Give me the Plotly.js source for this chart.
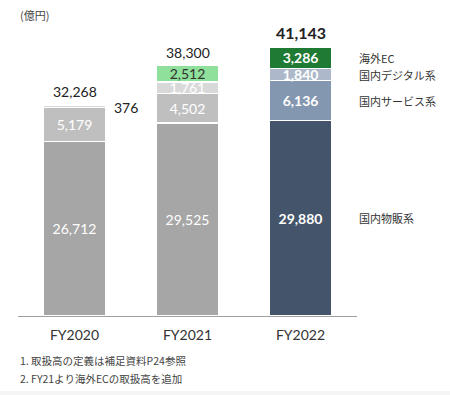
<!DOCTYPE html>
<html><head><meta charset="utf-8">
<script src="https://cdn.plot.ly/plotly-3.0.1.min.js"></script>
<style>html,body{margin:0;padding:0;background:#f5f5f5;}#chart{width:450px;height:391px;background:#fff;}</style>
</head><body><div id="chart"></div>
<script>
const years = ['FY2020', 'FY2021', 'FY2022'];
const seriesNames = ['国内物販系', '国内サービス系', '国内デジタル系', '海外EC'];
const goods = [26712, 29525, 29880];
const services = [5179, 4502, 6136];
const digital = [376, 1761, 1840];
const overseas = [null, 2512, 3286];
const totals = [32268, 38300, 41143];
const unitLabel = '(億円)';
const notes = ['1. 取扱高の定義は補足資料P24参照', '2. FY21より海外ECの取扱高を追加'];

const FONT = "Lato, 'Noto Sans CJK JP', sans-serif";
const JFONT = "'Noto Sans CJK JP', sans-serif";

const seriesVals = [goods, services, digital, overseas];
const colors = [
  ['#a6a6a6', '#a6a6a6', '#44546a'],
  ['#bfbfbf', '#bfbfbf', '#8497b0'],
  ['#d9d9d9', '#d9d9d9', '#adb9ca'],
  ['#8fe09a', '#8fe09a', '#1f7a33']
];
const textColors = [
  ['#ffffff', '#ffffff', '#ffffff'],
  ['#ffffff', '#ffffff', '#ffffff'],
  ['#ffffff', '#ffffff', '#ffffff'],
  ['#333333', '#333333', '#ffffff']
];
const fmt = v => v == null ? '' : v.toLocaleString('en-US');

const traces = seriesVals.map((vals, i) => ({
  type: 'bar',
  name: seriesNames[i],
  x: years,
  y: vals,
  marker: {color: colors[i], line: {color: '#ffffff', width: 1.5}},
  text: vals.map((v, j) => (i === 2 && j === 0) ? '' : fmt(v)),
  texttemplate: '%{text}',
  textposition: 'inside',
  insidetextanchor: 'middle',
  textangle: 0,
  constraintext: 'none',
  insidetextfont: {
    family: FONT,
    size: 14,
    color: textColors[i],
    weight: [400, 400, 700]
  },
  hoverinfo: 'skip',
  cliponaxis: false
}));

const annotations = [];
totals.forEach((t, j) => {
  annotations.push({
    x: years[j], y: seriesVals.reduce((s, a) => s + (a[j] || 0), 0),
    xref: 'x', yref: 'y', yanchor: 'bottom', yshift: 3,
    text: j === 2 ? '<b>' + fmt(t) + '</b>' : fmt(t),
    showarrow: false,
    font: {family: FONT, size: j === 2 ? 16 : 14, color: '#222'}
  });
});
annotations.push({
  x: 0.275, y: goods[0] + services[0] + digital[0],
  xref: 'x', yref: 'y', xanchor: 'left', yanchor: 'middle', xshift: 6, yshift: -2,
  text: fmt(digital[0]), showarrow: false,
  font: {family: FONT, size: 14, color: '#222'}
});
let cum = 0;
seriesVals.forEach((vals, i) => {
  const v = vals[2];
  annotations.push({
    x: 2.5, y: cum + v / 2, xref: 'x', yref: 'y', xanchor: 'left', yanchor: 'middle',
    text: seriesNames[i], showarrow: false,
    font: {family: JFONT, size: 11, color: '#333'}
  });
  cum += v;
});
annotations.push({
  x: 0, y: 1, xref: 'paper', yref: 'paper', xanchor: 'left', yanchor: 'middle',
  xshift: 0, yshift: 15, text: unitLabel, showarrow: false,
  font: {family: JFONT, size: 11, color: '#444'}
});
notes.forEach((n, k) => {
  annotations.push({
    x: 0, y: 0, xref: 'paper', yref: 'paper', xanchor: 'left', yanchor: 'middle',
    yshift: -44 - 18 * k, text: n, showarrow: false,
    font: {family: JFONT, size: 10.5, color: '#444'}
  });
});

const layout = {
  width: 450, height: 391,
  margin: {l: 18, r: 93, t: 30, b: 75},
  paper_bgcolor: '#ffffff', plot_bgcolor: '#ffffff',
  barmode: 'stack', bargap: 0.45,
  showlegend: false,
  uniformtext: {mode: false},
  xaxis: {
    type: 'category', range: [-0.5, 2.5], showline: true, linecolor: '#a0a0a0', linewidth: 1,
    ticks: '', showgrid: false, zeroline: false, ticklabelstandoff: 6,
    tickfont: {family: FONT, size: 14, color: '#333'}
  },
  yaxis: {range: [0, 43760], visible: false, showgrid: false, zeroline: false},
  annotations: annotations,
  font: {family: FONT}
};

Plotly.newPlot('chart', traces, layout, {displayModeBar: false, staticPlot: true});
</script></body></html>
